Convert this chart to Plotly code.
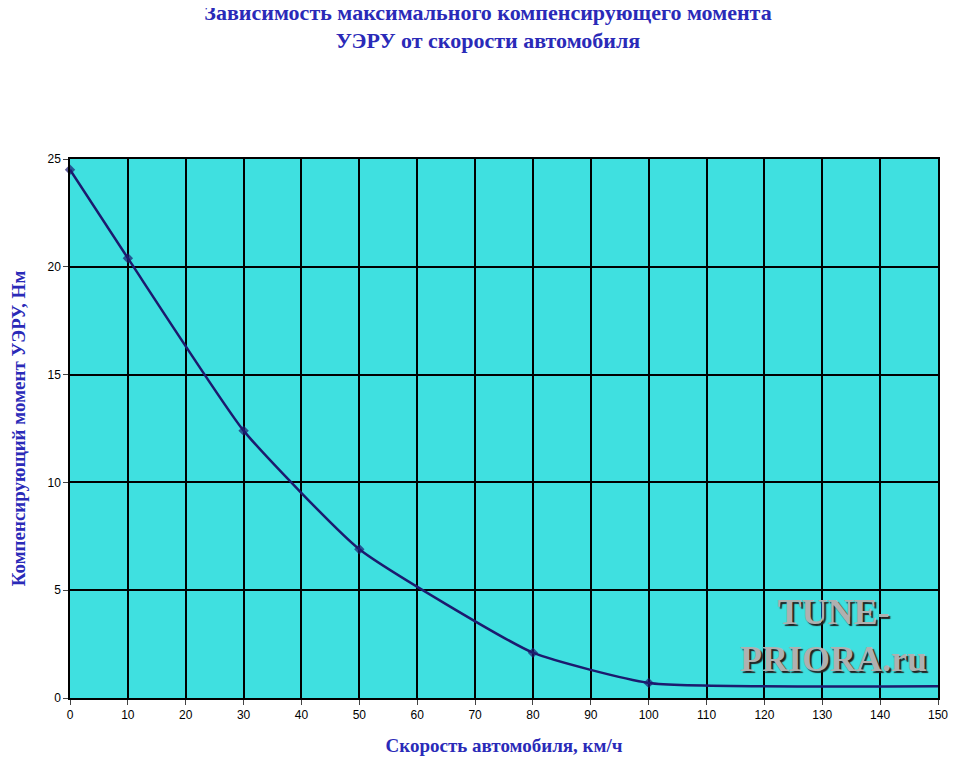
import plotly.graph_objects as go

speed = [0, 10, 30, 50, 80, 100, 150]
moment = [24.5, 20.4, 12.4, 6.9, 2.1, 0.7, 0.55]
marker_size = [8, 8, 8, 8, 8, 8, 0]

fig = go.Figure()
fig.add_trace(go.Scatter(x=speed, y=moment, mode="lines+markers"
                         , line={"color": "#1c1a6e", "width": 2.5, "shape": "spline", "smoothing": 0.45}
                         , marker={"symbol": "diamond", "size": marker_size, "color": "#1c1a6e", "line": {"width": 0}}
                         , cliponaxis=False
                         , showlegend=False))

fig.update_layout(
    width=960, height=766, margin=dict(l=62, r=30, t=151, b=76)
    , plot_bgcolor="#3fe0e0", paper_bgcolor="white"
    , font=dict(family="Liberation Serif", color="black")
    , title=dict(text="<b>Зависимость максимального компенсирующего момента<br>УЭРУ от скорости автомобиля</b>"
                 , x=0.5, xanchor="center", y=0.985, yanchor="top"
                 , font=dict(size=22, color="#2a2ab8"))
    , xaxis_title=dict(text="<b>Скорость автомобиля, км/ч</b>", font=dict(size=19, color="#2a2ab8"), standoff=18)
    , yaxis_title=dict(text="<b>Компенсирующий момент УЭРУ, Нм</b>", font=dict(size=19, color="#2a2ab8"), standoff=22)
)
fig.update_xaxes(range=[0, 150], dtick=10, showgrid=True, gridcolor="black", gridwidth=1.5, automargin=False
                 , showline=True, linecolor="black", linewidth=1.5, mirror=True, zeroline=False
                 , ticks="outside", ticklen=5, tickfont=dict(size=12, family="Liberation Sans"))
fig.update_yaxes(range=[0, 25], dtick=5, showgrid=True, gridcolor="black", gridwidth=1.5, automargin=False
                 , showline=True, linecolor="black", linewidth=1.5, mirror=True, zeroline=False
                 , ticks="outside", ticklen=5, tickfont=dict(size=12, family="Liberation Sans"))

# watermark
fig.add_annotation(text="<b>TUNE-<br>PRIORA.ru</b>", xref="paper", yref="paper", x=0.99, y=0.2
                   , xanchor="right", yanchor="top", showarrow=False, align="center"
                   , font=dict(size=36, color="#b0b0b0", family="Liberation Serif", shadow="2px 2px 1px #222"))

fig.write_html("out.html")
